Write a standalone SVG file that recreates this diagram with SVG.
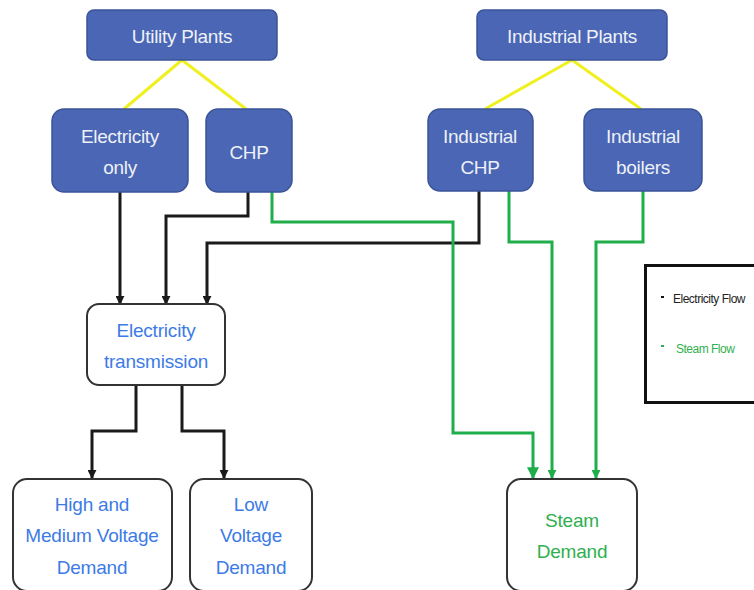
<svg xmlns="http://www.w3.org/2000/svg" width="754" height="590" viewBox="0 0 754 590">
<style>
.blue rect{fill:#4a66b4;stroke:#3b5498;stroke-width:1.5}
.blue text{fill:#eef1f8;font-family:"Liberation Sans",Arial,sans-serif;font-size:19px;text-anchor:middle;letter-spacing:-0.3px}
.white rect{fill:#fff;stroke:#333;stroke-width:2}
.white text{font-family:"Liberation Sans",Arial,sans-serif;font-size:19px;text-anchor:middle;letter-spacing:-0.2px}
.bt{fill:#3c7be6}
.gt{fill:#2fb050}
.y{stroke:#f0f020;stroke-width:3;fill:none}
.e{stroke:#1a1a1a;stroke-width:3;fill:none;marker-end:url(#ab)}
.s{stroke:#1fae4a;stroke-width:3;fill:none;marker-end:url(#ag)}
.lg{font-family:"Liberation Sans",Arial,sans-serif;font-size:12px;letter-spacing:-0.5px}
</style>
<defs>
<marker id="ab" viewBox="0 0 10 10" refX="9" refY="5" markerWidth="3" markerHeight="3" orient="auto" markerUnits="strokeWidth"><path d="M0,0 L10,5 L0,10 z" fill="#1a1a1a"/></marker>
<marker id="ag" viewBox="0 0 10 10" refX="9" refY="5" markerWidth="3" markerHeight="3" orient="auto" markerUnits="strokeWidth"><path d="M0,0 L10,5 L0,10 z" fill="#1fae4a"/></marker>
<marker id="agb" viewBox="0 0 10 10" refX="9" refY="5" markerWidth="4" markerHeight="4" orient="auto" markerUnits="strokeWidth"><path d="M0,0 L10,5 L0,10 z" fill="#1fae4a"/></marker>
</defs>
<rect width="754" height="590" fill="#fff"/>
<g id="connectors">
<path class="y" d="M182,60 L124,109 M182,60 L246,109"/>
<path class="y" d="M572,60 L485,109 M572,60 L641,109"/>
<path class="e" d="M120,192 V304"/>
<path class="e" d="M248,192 V216 H166 V304"/>
<path class="e" d="M479,191 V243 H207 V304"/>
<path class="e" d="M136,385 V431 H92 V478"/>
<path class="e" d="M182,385 V431 H224 V478"/>
<path class="s" d="M272,192 V222 H453 V433 H533 V478" style="marker-end:url(#agb)"/>
<path class="s" d="M509,191 V242 H552 V478" stroke-width="2.5"/>
<path class="s" d="M643,191 V242 H596 V478" stroke-width="2.5"/>
</g>
<g id="utility-plants" class="blue"><rect x="87" y="10" width="190" height="50" rx="7"/><text x="182" y="43">Utility Plants</text></g>
<g id="electricity-only" class="blue"><rect x="52" y="109" width="136" height="83" rx="12"/><text x="120" y="143">Electricity</text><text x="120" y="174">only</text></g>
<g id="chp" class="blue"><rect x="206" y="109" width="86" height="83" rx="12"/><text x="249" y="159">CHP</text></g>
<g id="industrial-plants" class="blue"><rect x="477" y="10" width="190" height="50" rx="7"/><text x="572" y="43">Industrial Plants</text></g>
<g id="industrial-chp" class="blue"><rect x="428" y="109" width="105" height="82" rx="12"/><text x="480" y="143">Industrial</text><text x="480" y="174">CHP</text></g>
<g id="industrial-boilers" class="blue"><rect x="584" y="109" width="118" height="82" rx="12"/><text x="643" y="143">Industrial</text><text x="643" y="174">boilers</text></g>
<g id="electricity-transmission" class="white"><rect x="87" y="304" width="138" height="81" rx="12"/><text class="bt" x="156" y="337">Electricity</text><text class="bt" x="156" y="368">transmission</text></g>
<g id="high-medium" class="white"><rect x="13" y="479" width="159" height="112" rx="14"/><text class="bt" x="92" y="511">High and</text><text class="bt" x="92" y="542">Medium Voltage</text><text class="bt" x="92" y="574">Demand</text></g>
<g id="low-voltage" class="white"><rect x="190" y="479" width="122" height="112" rx="14"/><text class="bt" x="251" y="511">Low</text><text class="bt" x="251" y="542">Voltage</text><text class="bt" x="251" y="574">Demand</text></g>
<g id="steam-demand" class="white"><rect x="507" y="479" width="130" height="112" rx="14"/><text class="gt" x="572" y="527">Steam</text><text class="gt" x="572" y="558">Demand</text></g>
<g id="legend">
<rect x="645.5" y="265.5" width="112" height="137" fill="#fff" stroke="#111" stroke-width="3"/>
<rect x="661" y="296" width="3" height="2" fill="#111"/>
<text class="lg" x="673" y="303" fill="#222">Electricity Flow</text>
<rect x="661" y="345" width="3" height="2" fill="#2fb050"/>
<text class="lg" x="676" y="353" fill="#2fb050">Steam Flow</text>
</g>
</svg>
